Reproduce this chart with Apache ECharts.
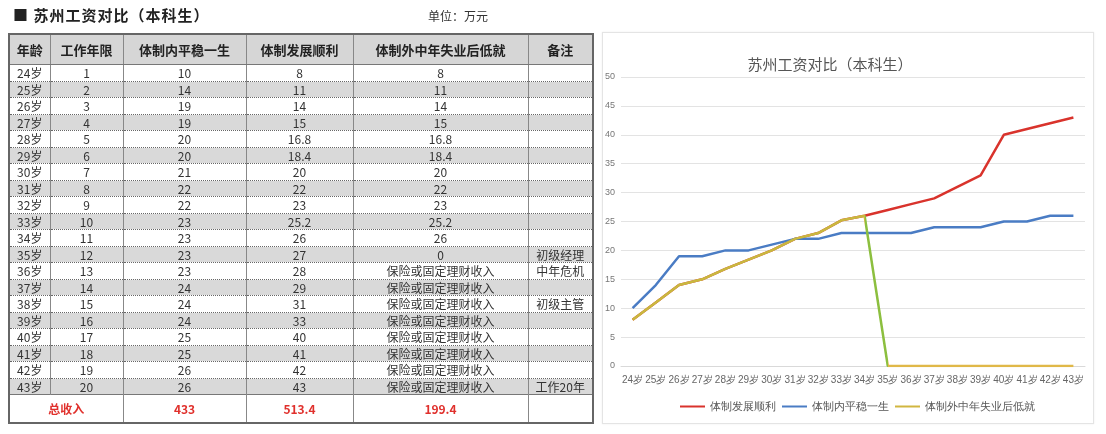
<!DOCTYPE html>
<html><head><meta charset="utf-8">
<script src="https://cdn.jsdelivr.net/npm/echarts@6/dist/echarts.min.js"></script>
<style>
html,body{margin:0;padding:0;background:#fff;width:1106px;height:434px;overflow:hidden;font-family:"Noto Sans CJK SC",sans-serif;}
#chart{position:absolute;left:0;top:0;width:1106px;height:434px;}
#panel{position:absolute;left:602px;top:32px;width:490px;height:390px;border:1px solid #e4e4e4;box-shadow:0 0 2px #eee;}
#title{position:absolute;left:13px;top:4px;font-size:15px;font-weight:bold;color:#222;letter-spacing:1px;}
#unit{position:absolute;left:428px;top:7px;font-size:12px;color:#333;}
table{position:absolute;left:8px;top:33px;border-collapse:collapse;border:2px solid #666;table-layout:fixed;}
td,th{padding:0;text-align:center;font-size:12px;color:#333;border-left:1px solid #888;border-right:1px solid #888;line-height:15px;white-space:nowrap;overflow:hidden;}
th{height:29px;background:#d6d6d6;font-weight:bold;font-size:13px;color:#222;border-bottom:1px solid #777;}
tr.r td{height:15.5px;border-bottom:1px dotted #666;}
tr.g td{background:#d9d9d9;}
tr.tot td{height:27px;color:#e0302c;font-weight:bold;font-size:12px;background:#fff;border-top:1px solid #777;}
</style></head>
<body>
<div id="panel"></div>
<div id="chart"></div>
<div id="title">■ 苏州工资对比（本科生）</div>
<div id="unit">单位：万元</div>
<table id="tbl"></table>
<script>
const headers = ["年龄","工作年限","体制内平稳一生","体制发展顺利","体制外中年失业后低就","备注"];
const ages = ["24岁","25岁","26岁","27岁","28岁","29岁","30岁","31岁","32岁","33岁","34岁","35岁","36岁","37岁","38岁","39岁","40岁","41岁","42岁","43岁"];
const workYears = [1,2,3,4,5,6,7,8,9,10,11,12,13,14,15,16,17,18,19,20];
const stableLife = [10,14,19,19,20,20,21,22,22,23,23,23,23,24,24,24,25,25,26,26];
const smoothCareer = [8,11,14,15,16.8,18.4,20,22,23,25.2,26,27,28,29,31,33,40,41,42,43];
const outsideTable = [8,11,14,15,16.8,18.4,20,22,23,25.2,26,0,"保险或固定理财收入","保险或固定理财收入","保险或固定理财收入","保险或固定理财收入","保险或固定理财收入","保险或固定理财收入","保险或固定理财收入","保险或固定理财收入"];
const outsideLine = [8,11,14,15,16.8,18.4,20,22,23,25.2,26,0,0,0,0,0,0,0,0,0];
const notes = ["","","","","","","","","","","","初级经理","中年危机","","初级主管","","","","","工作20年"];
const totalLabel = "总收入";
const totals = ["433","513.4","199.4"];
const legendNames = ["体制发展顺利","体制内平稳一生","体制外中年失业后低就"];
const chartTitle = "苏州工资对比（本科生）";

// table
const colW = [41,73,123,107,175,65];
const tbl = document.getElementById('tbl');
let html = '<colgroup>' + colW.map(w=>'<col style="width:'+w+'px">').join('') + '</colgroup>';
html += '<tr>' + headers.map(h=>'<th>'+h+'</th>').join('') + '</tr>';
ages.forEach((a,i)=>{
  html += '<tr class="r'+(i%2===1?' g':'')+'"><td>'+a+'</td><td>'+workYears[i]+'</td><td>'+stableLife[i]+'</td><td>'+smoothCareer[i]+'</td><td>'+outsideTable[i]+'</td><td>'+notes[i]+'</td></tr>';
});
html += '<tr class="tot"><td colspan="2">'+totalLabel+'</td><td>'+totals[0]+'</td><td>'+totals[1]+'</td><td>'+totals[2]+'</td><td></td></tr>';
tbl.innerHTML = html;

const chart = echarts.init(document.getElementById('chart'));
chart.setOption({
  animation:false,
  title:{text:chartTitle,left:825,top:52,textAlign:'center',textStyle:{fontSize:15,fontWeight:'normal',color:'#555',fontFamily:'Noto Sans CJK SC'}},
  grid:{left:621,right:21,top:77,bottom:68},
  legend:{
    top:396,left:675,icon:'rect',itemWidth:25,itemHeight:2,itemGap:6,
    textStyle:{fontSize:11,color:'#555'},
    data:[
      {name:legendNames[0],itemStyle:{color:'#d9332c'}},
      {name:legendNames[1],itemStyle:{color:'#4a7cc4'}},
      {name:legendNames[2],itemStyle:{color:'#d1b640'}}
    ]
  },
  xAxis:{type:'category',data:ages,boundaryGap:true,
    axisLine:{lineStyle:{color:'#d9d9d9'}},axisTick:{show:false},
    axisLabel:{interval:0,fontSize:10,color:'#666',margin:9}},
  yAxis:{type:'value',min:0,max:50,interval:5,
    axisLine:{show:false},axisTick:{show:false},
    axisLabel:{fontSize:9,color:'#777',margin:6},
    splitLine:{lineStyle:{color:'#e3e3e3'}}},
  visualMap:{show:false,type:'piecewise',seriesIndex:2,dimension:0,
    pieces:[{lt:10,color:'#c9b83e'},{gte:10,lte:11,color:'#8cbf3f'},{gt:11,color:'#e0b848'}]},
  series:[
    {name:legendNames[0],type:'line',data:smoothCareer,symbol:'none',lineStyle:{width:2.5,color:'#d9332c'},itemStyle:{color:'#d9332c'}},
    {name:legendNames[1],type:'line',data:stableLife,symbol:'none',lineStyle:{width:2.5,color:'#4a7cc4'},itemStyle:{color:'#4a7cc4'}},
    {name:legendNames[2],type:'line',data:outsideLine,symbol:'none',lineStyle:{width:2.5},itemStyle:{color:'#d1b640'}}
  ]
});
</script>
</body></html>
